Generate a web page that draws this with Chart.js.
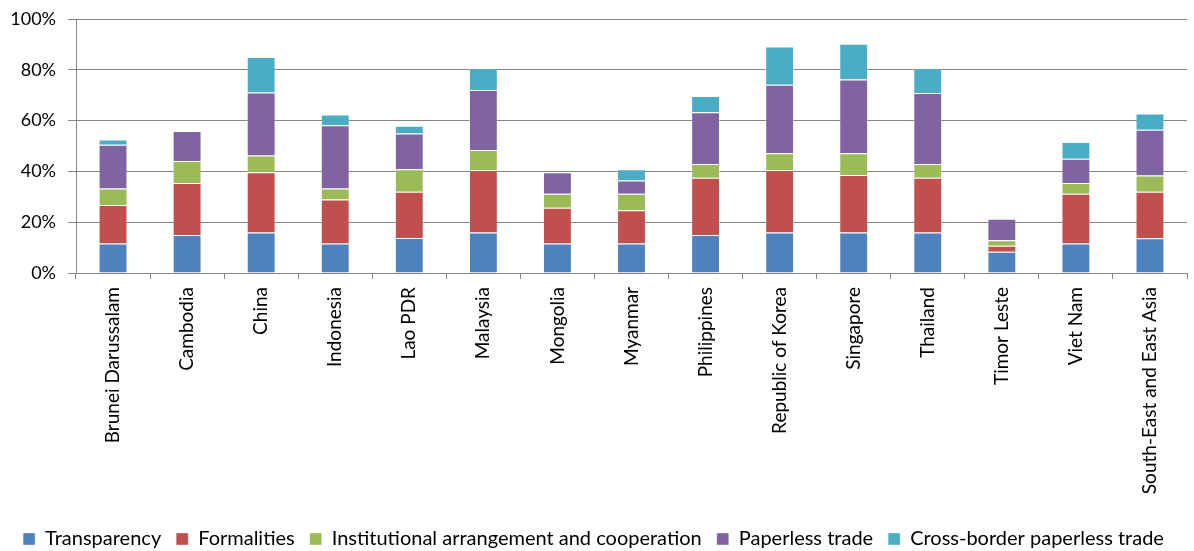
<!DOCTYPE html>
<html>
<head>
<meta charset="utf-8">
<script src="https://cdn.jsdelivr.net/npm/chart.js@4"></script>
<style>
  html, body { margin: 0; padding: 0; background: #fff; }
  #wrap { width: 1194px; height: 551px; }
</style>
</head>
<body>
<div id="wrap"><canvas id="tfChart"></canvas></div>
<script>
const countries = [
  'Brunei Darussalam', 'Cambodia', 'China', 'Indonesia', 'Lao PDR', 'Malaysia',
  'Mongolia', 'Myanmar', 'Philippines', 'Republic of Korea', 'Singapore',
  'Thailand', 'Timor Leste', 'Viet Nam', 'South-East and East Asia'
];

// implementation scores, % of the maximum
const transparency = [11.6, 15.0, 15.9, 11.6, 13.8, 15.9, 11.6, 11.6, 15.0, 15.9, 15.9, 15.9, 8.4, 11.6, 13.7];
const formalities = [15.2, 20.4, 23.8, 17.3, 18.2, 24.6, 14.1, 13.1, 22.5, 24.6, 22.7, 21.6, 2.3, 19.6, 18.3];
const institutional = [6.5, 8.7, 6.6, 4.4, 8.8, 7.9, 5.5, 6.5, 5.4, 6.6, 8.5, 5.4, 2.2, 4.2, 6.4];
const paperless = [17.2, 11.8, 24.8, 24.9, 14.1, 23.6, 8.5, 5.2, 20.4, 27.0, 29.1, 28.0, 8.5, 9.6, 18.0];
const crossBorder = [2.1, 0, 13.9, 4.2, 3.1, 8.7, 0, 4.4, 6.4, 15.1, 14.1, 9.8, 0, 6.6, 6.4];

const yTicks = [0, 20, 40, 60, 80, 100];

const FONT = 'Lato, "Open Sans", sans-serif';
Chart.defaults.font.family = FONT;
Chart.defaults.color = '#000';

function series(label, data, color) {
  return {
    label: label,
    data: data,
    backgroundColor: color,
    borderColor: 'rgba(255,255,255,0.35)',
    borderWidth: 1,
    categoryPercentage: 1,
    barPercentage: 0.39
  };
}

new Chart(document.getElementById('tfChart'), {
  type: 'bar',
  data: {
    labels: countries,
    datasets: [
      series('Transparency', transparency, '#4F81BD'),
      series('Formalities', formalities, '#C0504D'),
      series('Institutional arrangement and cooperation', institutional, '#9BBB59'),
      series('Paperless trade', paperless, '#8064A2'),
      series('Cross-border paperless trade', crossBorder, '#4BACC6')
    ]
  },
  options: {
    responsive: true,
    maintainAspectRatio: false,
    animation: false,
    layout: {
      padding: { top: 19, right: 7, left: 0, bottom: -8 }
    },
    plugins: {
      tooltip: { enabled: false },
      legend: {
        position: 'bottom',
        labels: {
          boxWidth: 12,
          boxHeight: 12,
          padding: 15,
          font: { size: 20 }
        }
      }
    },
    scales: {
      x: {
        stacked: true,
        border: { color: '#868686', width: 1 },
        grid: {
          offset: true,
          drawOnChartArea: false,
          drawTicks: true,
          tickLength: 6,
          color: '#868686'
        },
        ticks: {
          minRotation: 90,
          maxRotation: 90,
          autoSkip: false,
          padding: 8,
          font: { size: 19 }
        },
        afterFit: function (scale) { scale.height = 241; }
      },
      y: {
        stacked: true,
        min: 0,
        max: 100,
        border: { color: '#868686', width: 1 },
        grid: {
          color: '#868686',
          lineWidth: 1,
          tickLength: 8
        },
        afterBuildTicks: function (scale) {
          scale.ticks = yTicks.map(v => ({ value: v }));
        },
        ticks: {
          padding: 12,
          font: { size: 18 },
          callback: v => v + '%'
        },
        afterFit: function (scale) {
          scale.width = 76;
          // the top label may overhang; the layout padding already leaves room
          scale.paddingTop = 0;
          scale.paddingBottom = 0;
        }
      }
    }
  }
});
</script>
</body>
</html>
